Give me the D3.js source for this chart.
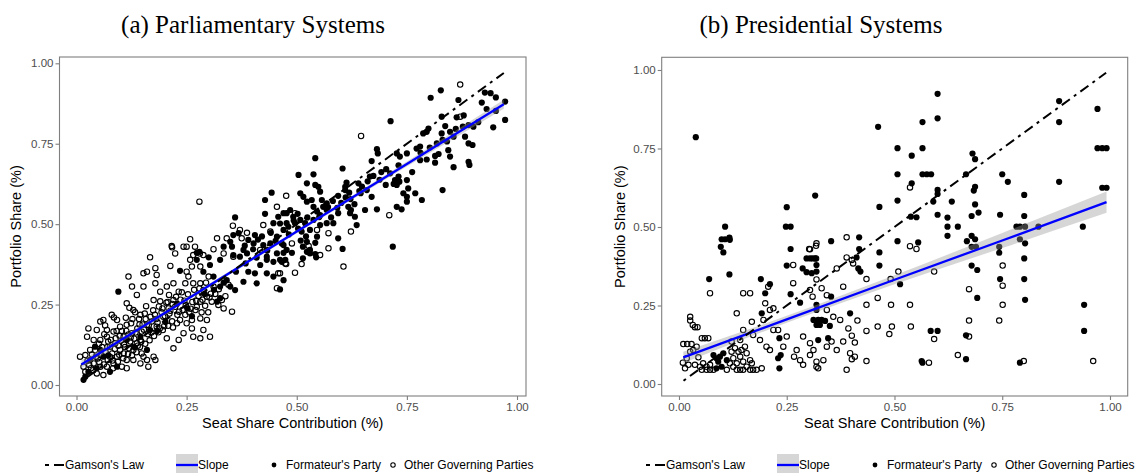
<!DOCTYPE html>
<html><head><meta charset="utf-8">
<script src="https://cdn.jsdelivr.net/npm/d3@7"></script>
<style>body{margin:0;background:#fff}svg{display:block}</style>
</head><body>
<svg id="c" width="1136" height="473"></svg>
<script>
const tickValues = [0, 0.25, 0.5, 0.75, 1];
const titles = ["(a) Parliamentary Systems", "(b) Presidential Systems"];
const xLabel = "Seat Share Contribution (%)";
const yLabel = "Portfolio Share (%)";
const legendLabels = ["Gamson's Law", "Slope", "Formateur's Party", "Other Governing Parties"];

// ---- (a) Parliamentary: Formateur's party (filled) ----
const parlFormateur = [
[0.804,0.893],[0.827,0.916],[0.713,0.820],[0.867,0.886],[0.863,0.832],[0.920,0.878],[0.927,0.909],[0.940,0.907],[0.952,0.894],[0.973,0.881],
[0.973,0.824],[0.946,0.801],[0.901,0.803],[0.890,0.808],[0.877,0.803],[0.882,0.772],[0.890,0.751],[0.899,0.746],[0.829,0.834],[0.837,0.805],
[0.787,0.782],[0.795,0.787],[0.799,0.797],[0.829,0.782],[0.818,0.751],[0.831,0.762],[0.848,0.787],[0.856,0.772],[0.844,0.730],[0.848,0.710],
[0.856,0.677],[0.890,0.694],[0.892,0.684],[0.814,0.712],[0.814,0.691],[0.795,0.701],[0.780,0.699],[0.772,0.735],[0.780,0.741],[0.750,0.720],
[0.727,0.720],[0.734,0.710],[0.682,0.733],[0.684,0.720],[0.670,0.696],[0.666,0.648],[0.674,0.650],[0.831,0.606],[0.718,0.430],[0.542,0.705],
[0.604,0.673],[0.504,0.653],[0.538,0.655],[0.523,0.627],[0.542,0.622],[0.549,0.616],[0.553,0.601],[0.613,0.629],[0.610,0.616],[0.640,0.627],
[0.645,0.596],[0.594,0.588],[0.610,0.606],[0.619,0.598],[0.659,0.606],[0.670,0.585],[0.682,0.546],[0.655,0.544],[0.712,0.658],[0.723,0.637],
[0.731,0.648],[0.727,0.622],[0.733,0.632],[0.720,0.625],[0.750,0.637],[0.753,0.611],[0.742,0.596],[0.750,0.585],[0.769,0.596],[0.784,0.575],
[0.727,0.554],[0.738,0.546],[0.750,0.570],[0.617,0.554],[0.623,0.544],[0.621,0.534],[0.632,0.523],[0.636,0.497],[0.568,0.565],[0.568,0.544],
[0.594,0.534],[0.583,0.503],[0.508,0.596],[0.515,0.585],[0.523,0.570],[0.534,0.575],[0.538,0.554],[0.546,0.539],[0.557,0.575],[0.560,0.554],
[0.553,0.528],[0.477,0.534],[0.485,0.544],[0.492,0.523],[0.496,0.503],[0.508,0.513],[0.519,0.503],[0.511,0.477],[0.530,0.482],[0.523,0.445],
[0.546,0.461],[0.538,0.513],[0.568,0.503],[0.530,0.420],[0.542,0.407],[0.594,0.456],[0.604,0.423],[0.514,0.394],[0.509,0.449],[0.514,0.430],
[0.489,0.411],[0.470,0.435],[0.470,0.411],[0.466,0.383],[0.523,0.414],[0.530,0.409],[0.544,0.397],[0.462,0.297],[0.542,0.442],[0.443,0.598],
[0.428,0.575],[0.360,0.521],[0.428,0.532],[0.368,0.472],[0.356,0.466],[0.349,0.445],[0.334,0.430],[0.300,0.397],[0.273,0.411],[0.405,0.466],
[0.390,0.451],[0.379,0.420],[0.447,0.503],[0.458,0.523],[0.470,0.534],[0.477,0.503],[0.470,0.482],[0.455,0.461],[0.440,0.440],[0.466,0.440],
[0.477,0.420],[0.455,0.409],[0.432,0.399],[0.474,0.389],[0.095,0.290],[0.235,0.355],[0.262,0.214],[0.279,0.414],[0.303,0.373],[0.326,0.389],
[0.353,0.430],[0.356,0.404],[0.371,0.399],[0.387,0.409],[0.402,0.440],[0.424,0.435],[0.432,0.389],[0.447,0.383],[0.462,0.389],[0.417,0.373],
[0.405,0.347],[0.390,0.352],[0.409,0.316],[0.379,0.321],[0.360,0.295],[0.349,0.306],[0.341,0.326],[0.326,0.306],[0.319,0.259],[0.326,0.270],
[0.311,0.337],[0.288,0.352],[0.273,0.389],[0.042,0.119],[0.054,0.109],[0.031,0.078],[0.061,0.088],[0.046,0.052],[0.076,0.041],[0.092,0.057],
[0.027,0.041],[0.020,0.026],[0.016,0.016],[0.145,0.150],[0.167,0.171],[0.114,0.140],[0.160,0.109],[0.432,0.347],[0.447,0.337],[0.470,0.326],
[0.072,0.092],[0.131,0.118],[0.202,0.196],[0.228,0.252],[0.252,0.238],[0.183,0.168],[0.291,0.283],[0.312,0.296],[0.334,0.318],[0.362,0.352],
[0.384,0.378],[0.409,0.396],[0.433,0.418],[0.452,0.448],[0.482,0.468],[0.503,0.486],[0.521,0.462],[0.553,0.497],[0.578,0.521],[0.601,0.566],
[0.622,0.578],[0.648,0.617],[0.688,0.638],[0.703,0.671],[0.731,0.683],[0.762,0.662],[0.781,0.722],[0.802,0.738],[0.822,0.718],[0.841,0.757],
[0.861,0.796],[0.879,0.838],[0.912,0.817],[0.931,0.858],[0.952,0.852],
[0.382,0.433],[0.401,0.422],[0.412,0.452],[0.421,0.462],[0.441,0.473],[0.462,0.502],[0.481,0.492],[0.493,0.511],[0.502,0.532],[0.524,0.521],
[0.551,0.522],[0.571,0.553],[0.582,0.572],[0.592,0.551],[0.611,0.583],[0.631,0.562],[0.642,0.603],[0.661,0.633],[0.692,0.662],[0.702,0.622]
];

// ---- (a) Parliamentary: other governing parties (open) ----
const parlOther = [
[0.871,0.934],[0.871,0.834],[0.646,0.774],[0.476,0.588],[0.710,0.528],[0.572,0.472],[0.623,0.477],[0.572,0.425],[0.553,0.404],[0.546,0.482],
[0.489,0.440],[0.496,0.534],[0.527,0.432],[0.606,0.368],[0.496,0.349],[0.511,0.376],[0.476,0.376],[0.462,0.347],[0.279,0.570],[0.355,0.495],
[0.341,0.456],[0.319,0.456],[0.258,0.453],[0.217,0.428],[0.224,0.409],[0.250,0.430],[0.269,0.430],[0.280,0.409],[0.311,0.422],[0.334,0.409],
[0.356,0.399],[0.371,0.482],[0.387,0.473],[0.375,0.456],[0.167,0.397],[0.417,0.420],[0.432,0.420],[0.424,0.497],[0.440,0.477],[0.455,0.554],
[0.213,0.370],[0.216,0.432],[0.243,0.430],[0.258,0.389],[0.262,0.368],[0.250,0.352],[0.220,0.316],[0.232,0.290],[0.247,0.316],[0.254,0.337],
[0.265,0.316],[0.281,0.316],[0.288,0.295],[0.296,0.274],[0.281,0.259],[0.273,0.243],[0.307,0.259],[0.322,0.249],[0.334,0.238],[0.353,0.228],
[0.330,0.264],[0.311,0.306],[0.300,0.337],[0.288,0.404],[0.265,0.404],[0.281,0.368],[0.455,0.301],[0.474,0.378],[0.458,0.347],[0.160,0.352],
[0.182,0.342],[0.152,0.306],[0.137,0.280],[0.114,0.254],[0.129,0.233],[0.145,0.218],[0.175,0.264],[0.190,0.290],[0.205,0.306],[0.220,0.264],
[0.209,0.238],[0.197,0.212],[0.182,0.181],[0.171,0.197],[0.160,0.187],[0.148,0.166],[0.205,0.145],[0.220,0.114],[0.232,0.140],[0.243,0.161],
[0.250,0.192],[0.262,0.176],[0.265,0.150],[0.281,0.145],[0.288,0.171],[0.303,0.150],[0.296,0.202],[0.281,0.207],[0.262,0.202],[0.235,0.202],
[0.247,0.218],[0.008,0.088],[0.020,0.093],[0.024,0.150],[0.027,0.176],[0.054,0.197],[0.061,0.202],[0.046,0.171],[0.054,0.140],[0.069,0.150],
[0.076,0.119],[0.088,0.130],[0.099,0.109],[0.092,0.088],[0.107,0.098],[0.114,0.078],[0.103,0.057],[0.114,0.052],[0.129,0.078],[0.145,0.067],
[0.152,0.088],[0.160,0.078],[0.175,0.088],[0.179,0.078],[0.163,0.057],[0.148,0.098],[0.129,0.109],[0.122,0.135],[0.107,0.150],[0.099,0.181],
[0.084,0.166],[0.069,0.171],[0.039,0.140],[0.031,0.109],[0.016,0.057],[0.020,0.041],[0.046,0.036],[0.061,0.031],[0.069,0.057],[0.084,0.067],
[0.039,0.067],[0.054,0.057],[0.076,0.088],[0.137,0.130],[0.145,0.140],[0.126,0.161],[0.114,0.187],[0.092,0.202],[0.080,0.218],[0.118,0.337],
[0.126,0.306],[0.152,0.347],[0.179,0.363],[0.179,0.316],
[0.035,0.095],[0.048,0.082],[0.058,0.118],[0.066,0.102],[0.072,0.135],[0.081,0.098],[0.089,0.145],[0.095,0.122],[0.103,0.168],[0.110,0.118],
[0.118,0.157],[0.124,0.192],[0.131,0.144],[0.138,0.176],[0.142,0.205],[0.150,0.188],[0.155,0.222],[0.162,0.158],[0.168,0.212],[0.174,0.232],
[0.181,0.205],[0.187,0.244],[0.193,0.226],[0.199,0.183],[0.204,0.256],[0.211,0.222],[0.217,0.198],[0.224,0.243],[0.229,0.218],[0.236,0.265],
[0.241,0.233],[0.248,0.248],[0.256,0.226],[0.263,0.258],[0.270,0.233],[0.277,0.276],[0.284,0.226],[0.292,0.246],[0.299,0.226],[0.305,0.284],
[0.062,0.064],[0.071,0.078],[0.083,0.052],[0.094,0.072],[0.106,0.083],[0.117,0.096],[0.126,0.092],[0.136,0.102],[0.144,0.118],[0.156,0.128],
[0.166,0.139],[0.176,0.152],[0.186,0.164],[0.196,0.171],[0.208,0.184],[0.219,0.179],[0.228,0.192],[0.038,0.046],[0.029,0.062],[0.052,0.071],
[0.042,0.108],[0.098,0.152],[0.112,0.209],[0.133,0.226],[0.158,0.245],[0.190,0.260],[0.210,0.280],[0.120,0.240],[0.085,0.210],[0.065,0.185],
[0.025,0.075],[0.033,0.052],[0.044,0.088],[0.051,0.128],[0.057,0.092],[0.063,0.158],[0.070,0.118],[0.078,0.140],[0.082,0.076],[0.087,0.112],
[0.091,0.168],[0.097,0.094],[0.101,0.138],[0.108,0.126],[0.113,0.168],[0.119,0.114],[0.123,0.148],[0.127,0.205],[0.134,0.163],[0.139,0.122],
[0.143,0.188],[0.147,0.135],[0.153,0.172],[0.157,0.205],[0.164,0.186],[0.170,0.163],[0.178,0.218],[0.184,0.194],[0.189,0.176],[0.195,0.238],
[0.201,0.214],[0.207,0.258],[0.213,0.231],[0.218,0.252],[0.226,0.274],[0.233,0.228],[0.239,0.288],[0.245,0.262],[0.253,0.282],[0.259,0.237],
[0.267,0.296],[0.272,0.262],[0.279,0.300],[0.286,0.265],[0.294,0.318],[0.302,0.272],[0.315,0.283],[0.323,0.298],[0.338,0.276],[0.345,0.312]
];

// ---- (b) Presidential: Formateur's party (filled) ----
const presFormateur = [
[0.039,0.786],[0.316,0.600],[0.250,0.563],[0.248,0.501],[0.259,0.501],[0.259,0.430],[0.107,0.501],[0.099,0.461],[0.107,0.461],[0.117,0.466],
[0.118,0.459],[0.097,0.437],[0.103,0.419],[0.353,0.455],[0.418,0.467],[0.418,0.430],[0.296,0.400],[0.304,0.400],[0.310,0.400],[0.600,0.924],
[0.600,0.846],[0.565,0.834],[0.462,0.819],[0.882,0.901],[0.882,0.834],[0.971,0.876],[0.971,0.751],[0.982,0.751],[0.992,0.751],[0.982,0.625],
[0.992,0.625],[0.882,0.644],[0.507,0.751],[0.565,0.751],[0.540,0.727],[0.507,0.668],[0.565,0.668],[0.575,0.668],[0.585,0.668],[0.681,0.734],
[0.687,0.716],[0.666,0.668],[0.750,0.668],[0.763,0.644],[0.540,0.639],[0.600,0.618],[0.600,0.605],[0.687,0.628],[0.684,0.616],[0.590,0.581],
[0.633,0.581],[0.687,0.572],[0.507,0.584],[0.465,0.564],[0.801,0.602],[0.538,0.533],[0.551,0.531],[0.600,0.539],[0.623,0.530],[0.623,0.501],
[0.647,0.501],[0.623,0.472],[0.695,0.546],[0.679,0.535],[0.745,0.539],[0.801,0.535],[0.783,0.501],[0.791,0.501],[0.803,0.501],[0.834,0.501],
[0.937,0.501],[0.679,0.472],[0.687,0.461],[0.668,0.455],[0.679,0.437],[0.689,0.437],[0.743,0.437],[0.791,0.461],[0.803,0.448],[0.507,0.455],
[0.555,0.451],[0.465,0.419],[0.412,0.403],[0.743,0.418],[0.801,0.400],[0.465,0.377],[0.421,0.358],[0.513,0.318],[0.679,0.377],[0.692,0.363],
[0.745,0.334],[0.801,0.334],[0.803,0.268],[0.692,0.274],[0.940,0.252],[0.940,0.169],[0.397,0.225],[0.584,0.169],[0.600,0.169],[0.666,0.155],
[0.563,0.073],[0.565,0.068],[0.666,0.079],[0.791,0.068],[0.117,0.349],[0.070,0.334],[0.190,0.334],[0.211,0.318],[0.200,0.289],[0.250,0.377],
[0.287,0.368],[0.296,0.356],[0.308,0.353],[0.319,0.358],[0.316,0.400],[0.319,0.379],[0.259,0.286],[0.281,0.259],[0.319,0.252],[0.319,0.236],
[0.353,0.278],[0.192,0.225],[0.233,0.146],[0.236,0.092],[0.230,0.082],[0.233,0.050],[0.312,0.204],[0.323,0.204],[0.331,0.204],[0.339,0.201],
[0.327,0.188],[0.319,0.188],[0.350,0.185],[0.346,0.146],[0.323,0.140],[0.416,0.368],[0.080,0.092],[0.087,0.082],[0.095,0.087],[0.091,0.071],
[0.103,0.098],[0.111,0.076],[0.099,0.055],[0.087,0.050]
];

// ---- (b) Presidential: other governing parties (open) ----
const presOther = [
[0.389,0.467],[0.319,0.448],[0.318,0.440],[0.302,0.430],[0.389,0.403],[0.318,0.400],[0.536,0.626],[0.536,0.439],[0.551,0.430],[0.751,0.377],
[0.751,0.313],[0.751,0.252],[0.743,0.202],[0.673,0.302],[0.673,0.202],[0.592,0.358],[0.509,0.358],[0.491,0.334],[0.435,0.334],[0.461,0.274],
[0.435,0.252],[0.414,0.202],[0.492,0.252],[0.536,0.252],[0.461,0.183],[0.494,0.183],[0.538,0.183],[0.435,0.169],[0.488,0.159],[0.592,0.143],
[0.401,0.154],[0.408,0.132],[0.673,0.151],[0.408,0.087],[0.401,0.079],[0.435,0.073],[0.580,0.068],[0.647,0.092],[0.800,0.073],[0.961,0.073],
[0.072,0.289],[0.026,0.214],[0.026,0.202],[0.032,0.188],[0.037,0.181],[0.043,0.181],[0.010,0.127],[0.019,0.127],[0.029,0.127],[0.041,0.119],
[0.033,0.108],[0.026,0.103],[0.045,0.085],[0.037,0.061],[0.014,0.050],[0.009,0.068],[0.022,0.061],[0.018,0.082],[0.053,0.146],[0.060,0.146],
[0.068,0.146],[0.053,0.045],[0.064,0.045],[0.072,0.045],[0.080,0.045],[0.064,0.055],[0.056,0.066],[0.049,0.055],[0.072,0.061],[0.118,0.066],
[0.126,0.055],[0.134,0.045],[0.142,0.045],[0.149,0.045],[0.157,0.055],[0.165,0.045],[0.172,0.045],[0.134,0.066],[0.126,0.082],[0.142,0.087],
[0.149,0.071],[0.138,0.103],[0.145,0.108],[0.157,0.098],[0.165,0.076],[0.169,0.066],[0.111,0.045],[0.122,0.103],[0.130,0.114],[0.153,0.119],
[0.122,0.135],[0.142,0.140],[0.180,0.045],[0.188,0.140],[0.211,0.108],[0.242,0.119],[0.192,0.050],[0.203,0.119],[0.219,0.172],[0.230,0.172],
[0.250,0.151],[0.267,0.087],[0.273,0.108],[0.288,0.151],[0.304,0.130],[0.312,0.108],[0.281,0.076],[0.288,0.061],[0.304,0.092],[0.319,0.071],
[0.335,0.076],[0.343,0.119],[0.354,0.135],[0.366,0.108],[0.381,0.135],[0.397,0.098],[0.389,0.045],[0.319,0.055],[0.323,0.050],[0.196,0.204],
[0.200,0.257],[0.211,0.236],[0.219,0.241],[0.149,0.172],[0.169,0.198],[0.172,0.156],[0.149,0.289],[0.165,0.289],[0.207,0.310],[0.265,0.321],
[0.265,0.379],[0.304,0.429],[0.304,0.299],[0.331,0.305],[0.343,0.283],[0.319,0.333],[0.310,0.278],[0.343,0.236],[0.358,0.214],[0.374,0.204],
[0.393,0.177],[0.381,0.310],[0.401,0.395],[0.404,0.384],[0.366,0.368],[0.134,0.225]
];

// ---- fitted lines and confidence bands ----
const parlFitX = [0.011, 0.25, 0.5, 0.75, 0.970];
const parlFitY = [0.064, 0.266, 0.477, 0.687, 0.873];
const parlBandLo = [0.052, 0.260, 0.472, 0.679, 0.859];
const parlBandHi = [0.076, 0.272, 0.482, 0.695, 0.887];
const parlGamson = [0.011, 0.970];

const presFitX = [0.010, 0.25, 0.5, 0.75, 0.992];
const presFitY = [0.085, 0.206, 0.332, 0.457, 0.579];
const presBandLo = [0.067, 0.195, 0.318, 0.433, 0.545];
const presBandHi = [0.103, 0.217, 0.346, 0.481, 0.613];
const presGamson = [0.0105, 0.991];

const svg = d3.select("#c");
const sans = "'Liberation Sans', Arial, Helvetica, sans-serif";

const panels = [
  {title: titles[0], titleX: 253, left: 59.5, right: 526, top: 57, bottom: 396,
   xd: [-0.0386, 1.0204], yd: [-0.0342, 1.0196],
   form: parlFormateur, other: parlOther, fitX: parlFitX, fitY: parlFitY, lo: parlBandLo, hi: parlBandHi,
   gam: parlGamson, yTitleX: 21, legendDot: 274},
  {title: titles[1], titleX: 821, left: 661.7, right: 1127.7, top: 57.3, bottom: 396,
   xd: [-0.0401, 1.0411], yd: [-0.0382, 1.0404],
   form: presFormateur, other: presOther, fitX: presFitX, fitY: presFitY, lo: presBandLo, hi: presBandHi,
   gam: presGamson, yTitleX: 624.5, legendDot: 875}
];

const dashPattern = "3,5,10,5";

panels.forEach(p => {
  const x = d3.scaleLinear().domain(p.xd).range([p.left, p.right]);
  const y = d3.scaleLinear().domain(p.yd).range([p.bottom, p.top]);
  const g = svg.append("g");

  svg.append("text").attr("x", p.titleX).attr("y", 33).attr("text-anchor", "middle")
    .attr("font-family", "'Liberation Serif', 'Times New Roman', serif").attr("font-size", 25)
    .attr("fill", "#000").text(p.title);

  g.append("g").selectAll("circle").data(p.other).join("circle")
    .attr("cx", d => x(d[0])).attr("cy", d => y(d[1])).attr("r", 2.7)
    .attr("fill", "none").attr("stroke", "#000").attr("stroke-width", 1.1);
  g.append("g").selectAll("circle").data(p.form).join("circle")
    .attr("cx", d => x(d[0])).attr("cy", d => y(d[1])).attr("r", 3.1)
    .attr("fill", "#000");

  const band = p.fitX.map((v, i) => ({x: v, lo: p.lo[i], hi: p.hi[i]}));
  g.append("path").datum(band)
    .attr("d", d3.area().x(d => x(d.x)).y0(d => y(d.lo)).y1(d => y(d.hi)).curve(d3.curveMonotoneX))
    .attr("fill", "#999999").attr("fill-opacity", 0.4);

  const fit = p.fitX.map((v, i) => [v, p.fitY[i]]);
  g.append("path").datum(fit)
    .attr("d", d3.line().x(d => x(d[0])).y(d => y(d[1])))
    .attr("fill", "none").attr("stroke", "#0000ff").attr("stroke-width", 2.3);

  g.append("path").datum(p.gam.map(v => [v, v]))
    .attr("d", d3.line().x(d => x(d[0])).y(d => y(d[1])))
    .attr("fill", "none").attr("stroke", "#000").attr("stroke-width", 2)
    .attr("stroke-dasharray", dashPattern);

  svg.append("rect").attr("x", p.left).attr("y", p.top)
    .attr("width", p.right - p.left).attr("height", p.bottom - p.top)
    .attr("fill", "none").attr("stroke", "#7f7f7f").attr("stroke-width", 1.1);

  const ax = svg.append("g").attr("transform", `translate(0,${p.bottom})`)
    .call(d3.axisBottom(x).tickValues(tickValues).tickFormat(d3.format(".2f")).tickSize(4).tickPadding(3));
  const ay = svg.append("g").attr("transform", `translate(${p.left},0)`)
    .call(d3.axisLeft(y).tickValues(tickValues).tickFormat(d3.format(".2f")).tickSize(4).tickPadding(2));
  [ax, ay].forEach(a => {
    a.select(".domain").remove();
    a.selectAll(".tick line").attr("stroke", "#7f7f7f").attr("stroke-width", 1.1);
    a.selectAll(".tick text").attr("fill", "#4d4d4d").attr("font-size", 11.5).attr("font-family", sans);
  });

  svg.append("text").attr("x", (p.left + p.right) / 2).attr("y", 428).attr("text-anchor", "middle")
    .attr("font-family", sans).attr("font-size", 14.5).attr("fill", "#000").text(xLabel);
  svg.append("text").attr("transform", `translate(${p.yTitleX},${(p.top + p.bottom) / 2}) rotate(-90)`)
    .attr("text-anchor", "middle").attr("font-family", sans).attr("font-size", 14.5).attr("fill", "#000").text(yLabel);

  const L = svg.append("g").attr("transform", `translate(${p.legendDot},465)`);
  const ty = 4.2;
  L.append("line").attr("x1", -229).attr("x2", -210).attr("y1", 0).attr("y2", 0)
    .attr("stroke", "#000").attr("stroke-width", 2).attr("stroke-dasharray", "4,5,10,5");
  L.append("text").attr("x", -209).attr("y", ty).attr("font-family", sans).attr("font-size", 12).text(legendLabels[0]);
  L.append("rect").attr("x", -98).attr("y", -11).attr("width", 22).attr("height", 22).attr("fill", "#d6d6d6");
  L.append("line").attr("x1", -98).attr("x2", -76).attr("y1", 0).attr("y2", 0)
    .attr("stroke", "#0000ff").attr("stroke-width", 2.3);
  L.append("text").attr("x", -76).attr("y", ty).attr("font-family", sans).attr("font-size", 12).text(legendLabels[1]);
  L.append("circle").attr("cx", 0).attr("cy", 0).attr("r", 2.4).attr("fill", "#000");
  L.append("text").attr("x", 12).attr("y", ty).attr("font-family", sans).attr("font-size", 12).text(legendLabels[2]);
  L.append("circle").attr("cx", 119).attr("cy", 0).attr("r", 2.2).attr("fill", "none").attr("stroke", "#000").attr("stroke-width", 1.1);
  L.append("text").attr("x", 130).attr("y", ty).attr("font-family", sans).attr("font-size", 12).text(legendLabels[3]);
});
</script>
</body></html>
